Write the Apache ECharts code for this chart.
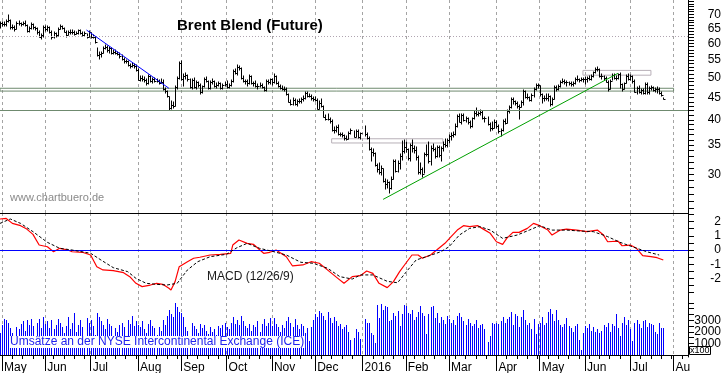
<!DOCTYPE html>
<html><head><meta charset="utf-8">
<script src="https://cdn.jsdelivr.net/npm/echarts@6/dist/echarts.min.js"></script>
<style>html,body{margin:0;padding:0;background:#fff}#c{width:723px;height:373px}</style>
</head><body><div id="c"></div>
<script>
// ---- axis / category definitions ----
const firstDay = [2015, 3, 30];       // 30 Apr 2015, trading days (Mon-Fri)
const dayCount = 335;
const monthLabels = ['May','Jun','Jul','Aug','Sep','Oct','Nov','Dec','2016','Feb','Mar','Apr','May','Jun','Jul','Au'];
const priceLabels = [30,35,40,45,50,55,60,65,70];
const macdLabels = [-2,-1,0,1,2];
const volLabelsOuter = [1000,3000];
const volLabelsMiddle = [2000];

// ---- daily Brent prices (close / high / low), 30 Apr 2015 .. 25 Jul 2016 ----
const closes = [
 66.78,66.46,66.45,67.52,67.77,65.54,65.39,64.91,66.86,66.81,66.59,66.81,66.27,64.02,65.03,66.54,65.37,65.00,63.72,62.06,62.58,65.56,
 64.88,65.49,63.80,62.03,63.31,62.69,64.88,65.70,65.08,63.87,62.61,63.70,63.87,63.64,63.02,63.34,64.45,63.49,62.58,63.26,62.01,63.59,
 62.01,62.07,60.32,56.54,56.85,57.05,58.61,58.73,57.85,58.51,57.05,57.47,57.10,56.65,56.13,55.27,54.62,54.62,53.47,53.30,53.38,53.31,52.21,
 49.52,49.99,49.59,49.52,48.61,50.41,49.18,49.66,49.22,49.19,48.74,49.00,47.16,46.62,45.46,42.69,43.21,43.14,47.56,50.05,54.15,
 49.56,50.50,50.68,49.61,47.63,49.52,47.58,48.89,48.14,46.37,47.75,49.75,49.08,47.47,48.92,49.08,47.75,48.17,48.60,47.34,48.23,48.37,
 47.69,48.13,49.25,51.92,51.33,53.05,52.65,49.86,49.24,49.15,48.71,50.46,48.61,48.71,47.85,47.85,48.07,47.54,46.81,49.05,48.80,49.56,
 48.79,50.54,48.58,47.98,47.42,47.19,47.19,45.81,44.06,43.61,44.56,43.57,44.14,44.18,44.66,44.83,46.12,45.46,45.46,44.86,44.61,
 44.44,42.49,43.84,43.00,40.73,40.26,40.11,39.73,37.93,37.92,38.45,37.19,37.06,36.88,36.35,36.11,37.36,37.89,null,36.62,37.79,36.46,37.28,
 null,37.22,36.42,34.23,33.75,33.55,31.55,30.86,30.31,31.03,28.94,28.55,28.76,27.88,29.25,32.18,30.50,31.80,33.10,33.89,34.74,
 34.24,32.72,35.04,34.46,34.06,32.88,30.32,30.84,30.06,33.36,33.39,32.18,34.50,34.28,33.01,34.69,33.27,34.41,35.29,35.10,35.97,
 36.81,36.93,37.07,38.72,40.84,39.65,41.07,40.05,40.39,39.53,38.74,40.33,41.54,41.20,41.54,41.79,40.47,40.44,null,39.14,38.29,38.32,39.60,
 38.67,37.69,37.87,39.84,39.43,41.94,42.83,44.69,44.18,43.84,43.10,42.91,44.03,46.74,45.17,45.11,44.48,45.74,47.18,48.14,48.13,
 45.83,44.97,45.01,45.01,45.37,43.63,44.66,47.59,47.08,47.83,48.97,49.28,48.93,48.81,48.72,48.35,48.61,49.74,49.59,49.32,49.76,49.69,
 49.72,49.95,49.64,50.55,51.44,52.51,52.51,50.54,50.35,49.83,48.97,47.19,49.17,50.65,49.96,49.88,50.91,48.41,47.16,48.58,50.61,49.68,
 50.35,49.10,46.40,47.43,46.40,46.76,46.25,48.47,46.26,47.37,47.61,46.96,47.12,47.17,46.20,45.69,44.72
];
const highs = [
 67.10,67.10,67.10,67.90,69.63,67.80,66.10,65.90,67.30,67.40,67.00,67.10,67.40,66.30,65.50,66.80,66.50,65.50,65.20,63.90,62.90,65.90,
 65.70,65.80,65.60,64.00,63.60,63.50,65.10,66.00,65.80,65.10,63.90,63.90,64.30,64.40,63.90,63.70,64.50,64.40,63.60,63.60,63.00,64.00,
 63.50,62.60,62.10,58.70,57.40,57.30,59.00,59.60,59.10,58.90,58.60,57.90,57.90,57.30,56.90,56.40,55.50,55.00,54.70,53.80,54.20,53.80,53.40,
 52.30,50.40,50.50,50.10,49.60,50.70,50.60,49.90,50.00,49.60,49.40,49.60,49.40,47.30,46.70,45.20,44.30,44.00,47.90,50.30,54.30,
 54.70,51.00,51.40,50.70,49.60,49.80,50.00,49.10,48.90,48.30,47.90,49.90,50.10,49.10,49.10,49.70,49.20,48.60,48.90,48.70,48.50,49.00,
 49.10,48.40,49.50,52.10,52.40,53.60,53.30,52.70,50.40,49.50,49.50,50.70,50.40,49.00,49.10,48.40,48.60,48.30,47.70,49.30,49.50,49.80,
 49.70,50.90,50.50,48.90,48.20,47.90,47.60,47.40,46.00,44.40,44.90,44.80,44.40,44.80,45.00,45.30,46.40,46.30,45.90,45.60,45.20,
 45.10,44.70,44.10,44.60,43.10,41.00,41.20,40.50,39.90,38.50,38.70,38.90,37.40,37.30,37.00,36.70,37.50,38.10,null,37.70,38.00,37.90,37.40,
 null,38.80,37.40,36.60,34.40,34.30,33.60,31.60,31.80,31.40,30.90,29.20,29.10,28.80,29.50,32.30,32.30,32.10,33.40,35.80,36.00,
 35.50,34.20,35.20,35.90,34.90,34.70,33.10,31.80,31.00,33.50,35.10,35.50,34.80,35.20,34.50,34.90,34.80,34.60,35.60,36.20,36.20,
 37.00,37.30,37.50,39.10,41.00,41.20,41.30,41.20,40.70,40.40,39.70,40.50,42.00,42.50,41.70,42.10,41.90,40.70,null,40.60,39.30,39.50,40.00,
 39.80,38.90,38.20,40.00,40.30,42.20,43.10,44.90,44.90,44.30,44.00,43.40,44.30,46.90,46.50,45.80,45.20,45.90,47.30,48.50,48.50,
 48.00,45.90,45.50,45.90,46.00,45.50,44.90,47.80,47.90,48.10,49.10,49.70,49.50,49.20,49.00,48.80,48.90,49.90,50.50,49.80,49.90,50.00,
 50.10,50.20,50.50,50.70,51.60,52.60,52.86,52.40,50.90,50.60,50.20,49.10,49.30,50.90,51.00,50.40,51.10,51.20,48.40,48.70,50.80,51.00,
 50.80,50.50,49.50,47.60,47.90,47.00,47.20,48.60,48.60,47.50,47.90,47.70,47.30,47.50,47.30,46.30,44.90
];
const lows = [
 65.20,65.90,65.90,65.90,67.20,64.80,64.70,64.10,64.80,66.00,65.80,66.00,65.90,63.80,63.80,64.90,64.90,64.30,62.90,61.90,61.50,62.20,
 64.10,64.20,63.50,61.50,61.80,62.20,62.40,64.70,64.60,63.60,62.20,62.60,63.10,63.10,62.80,62.90,63.20,63.20,62.30,62.50,61.60,62.10,
 61.80,61.70,60.10,56.10,55.10,55.90,56.90,58.10,57.20,56.90,56.80,56.80,56.80,56.30,55.60,55.00,54.10,54.00,53.10,52.70,52.90,52.80,51.90,
 49.40,49.10,49.20,48.90,48.20,48.50,48.90,48.70,48.90,48.80,48.40,48.60,46.80,46.20,45.10,42.23,42.40,42.50,43.00,47.10,49.60,
 49.30,47.90,49.60,49.20,47.30,47.20,47.30,47.20,47.70,46.00,46.10,47.50,48.80,47.20,47.20,48.40,47.50,47.30,47.90,47.10,47.10,47.80,
 47.40,47.40,47.80,49.00,50.90,50.80,52.00,49.70,48.90,48.30,47.90,48.40,48.40,48.00,47.50,47.20,47.60,47.30,46.60,46.50,48.40,48.30,
 48.20,48.60,48.30,47.60,47.10,46.80,46.70,45.60,43.90,43.30,43.20,43.40,43.10,43.80,43.80,44.10,44.70,45.20,45.10,44.50,44.30,
 44.10,42.30,42.30,42.80,40.60,39.90,39.90,39.40,37.80,37.30,37.50,37.00,36.70,36.60,36.05,35.98,36.20,37.10,null,36.50,36.60,36.30,36.20,
 null,36.80,36.20,34.10,32.20,33.00,31.40,30.30,30.00,29.80,28.80,27.70,27.90,27.10,27.80,29.20,30.30,30.40,30.90,32.30,33.50,
 33.70,32.30,32.20,33.80,33.60,32.40,30.00,30.10,29.60,30.20,33.00,31.80,31.50,33.90,32.70,32.90,32.80,32.10,34.00,34.60,34.60,
 35.40,35.90,36.50,36.90,38.60,39.50,39.10,39.80,39.50,39.20,38.40,38.50,40.20,40.90,40.80,41.00,40.20,39.60,null,38.90,37.80,38.00,38.30,
 38.30,37.30,36.80,37.80,39.10,39.30,41.50,42.60,43.60,43.40,42.70,40.10,42.90,43.40,44.90,44.80,44.20,44.10,45.20,46.80,47.40,
 45.40,43.80,44.20,44.40,44.30,43.00,43.40,44.80,46.70,46.90,47.60,48.60,48.30,47.90,48.20,47.80,47.90,48.50,49.20,48.90,49.10,48.90,
 48.50,48.90,49.30,49.50,50.30,51.30,51.80,50.30,49.80,49.50,48.80,46.60,47.20,49.30,49.70,49.30,49.80,47.40,46.60,47.00,48.60,49.50,
 49.40,48.70,46.30,46.00,46.10,45.90,46.00,46.00,46.00,45.90,46.90,46.60,46.40,46.20,46.00,45.40,44.60
];
// ---- daily volume (x100 contracts) ----
const volumes = [
 1900,2600,3100,3000,2800,2300,1900,1200,2400,2200,2700,2900,2100,3000,2600,3100,2500,1000,2800,3100,2300,3300,
 2700,2900,2300,3000,2200,2600,3100,2800,2400,1900,2500,3300,2200,2800,3600,2000,2600,3000,2400,1500,3200,2800,
 3000,2500,1700,3600,3300,2900,2600,2200,3100,2700,2500,1400,2300,2000,2600,2800,2400,1600,3000,2700,3400,2500,2900,
 2600,2400,2900,2200,1900,2700,3000,2500,2300,1700,2400,2100,3000,2600,3400,3900,3500,3300,4500,4100,3700,
 3600,3300,2400,2100,1300,2800,2500,2200,1900,2700,2300,2600,2100,1800,2400,2000,2200,1700,2500,2300,2600,2800,
 2400,2200,2800,3300,2700,3000,2600,3400,2900,2500,2300,2700,2100,2600,2400,2900,2000,2700,3100,2500,2800,3200,
 2500,3200,2700,2400,2000,2600,2300,2900,3300,2800,2400,3100,2600,2200,2700,2500,1900,2300,1200,2400,3000,
 3500,3300,3800,3600,3400,3000,3700,3200,2800,3300,2900,2500,2700,2200,2400,2600,2000,1300,null,1500,2200,2000,1400,
 null,3100,2800,2800,1900,1700,1000,4300,3200,4400,3900,4200,4100,2900,3000,3600,3400,3800,2500,3500,4300,
 4200,3600,3500,3900,3000,3300,3700,4200,3600,3400,1800,3500,4100,4200,3200,3600,2800,3300,3000,2700,3400,
 3100,2800,3000,2600,3400,3600,3300,2900,2600,3100,2800,2500,2700,3000,2300,2600,2700,2200,null,1100,1600,2800,2700,
 2800,2700,2900,3300,2800,3100,3300,3700,2600,3500,3400,2400,3300,3900,3000,2600,2800,2200,3100,1800,2700,
 2800,3300,2600,2800,3700,4000,3500,2900,3900,3000,2600,2400,2700,3200,2500,2300,2000,2500,2700,1300,400,1900,
 2500,2300,2700,2100,2400,2000,2200,1900,2100,2600,2400,2800,2000,2700,2500,3500,2300,1600,2800,3300,2600,3000,
 2200,1200,2800,3000,2700,2300,2900,3000,2400,2800,2700,2600,2000,1800,2800,2300,2300
];
// ---- MACD (12/26/9): [trading-day index, value] ----
const macdLine = [[0,2.18],[3,2.22],[6,1.87],[10,1.71],[13,1.47],[16,1.10],[19,0.35],[23,0.23],[26,-0.12],[29,0.12],[33,0.00],[35,-0.12],[40,-0.16],[44,-0.35],[47,-1.17],[50,-1.40],[55,-1.45],[60,-1.59],[63,-1.87],[66,-2.34],[69,-2.57],[73,-2.46],[76,-2.34],[79,-2.41],[82,-2.69],[83,-2.81],[85,-2.22],[87,-1.17],[91,-0.82],[94,-0.58],[97,-0.51],[102,-0.35],[107,-0.30],[112,-0.23],[113,0.35],[116,0.70],[120,0.47],[123,0.40],[128,-0.23],[131,-0.16],[134,0.00],[139,-0.47],[142,-1.12],[147,-1.05],[151,-0.82],[155,-0.93],[160,-1.52],[164,-1.99],[167,-2.34],[171,-1.87],[175,-1.80],[178,-1.47],[181,-1.64],[184,-2.34],[188,-2.64],[191,-2.22],[194,-1.52],[197,-0.93],[200,-0.35],[203,-0.35],[205,-0.58],[209,-0.35],[212,0.00],[216,0.47],[219,0.94],[222,1.40],[225,1.71],[228,1.64],[232,1.71],[234,1.52],[238,1.17],[241,0.58],[244,0.40],[246,0.82],[249,1.24],[252,1.24],[256,1.52],[259,1.87],[262,1.71],[266,1.40],[268,1.05],[272,1.40],[275,1.47],[280,1.40],[285,1.29],[290,1.40],[293,1.05],[295,0.58],[300,0.63],[302,0.30],[306,0.35],[309,0.12],[312,-0.40],[316,-0.47],[319,-0.54],[322,-0.70]];
const signalLine = [[0,1.87],[5,2.18],[10,1.87],[16,1.29],[23,0.54],[29,0.12],[35,0.00],[44,-0.23],[49,-0.70],[55,-1.24],[62,-1.52],[66,-1.99],[71,-2.34],[76,-2.41],[81,-2.46],[86,-2.34],[91,-1.40],[96,-0.82],[102,-0.47],[110,-0.30],[115,0.16],[120,0.47],[126,0.12],[133,-0.12],[139,-0.35],[146,-0.86],[152,-0.93],[159,-1.28],[165,-1.87],[171,-2.04],[175,-1.75],[181,-1.75],[188,-2.20],[193,-2.30],[198,-1.40],[202,-0.70],[207,-0.47],[214,-0.12],[218,0.23],[223,1.05],[228,1.52],[233,1.64],[238,1.40],[244,0.82],[251,1.05],[257,1.40],[262,1.71],[268,1.40],[275,1.40],[282,1.33],[288,1.29],[295,0.94],[301,0.54],[307,0.23],[314,-0.12],[320,-0.35]];
// ---- drawn annotations (price levels / trend lines) ----
const dottedLevel = 62.4;
const supportLevel = 42.2;
const resistBand = [47.3, 46.6, 0, 327];     // top, bottom, from day, to day
const boxJun = [52.0, 50.7, 283, 316];
const boxDec = [36.2, 35.4, 161, 215];
const greenTrend = [[186, 26.26], [300, 51.2]];
const blueTrend = [[42, 64.4], [82, 47.3]];

// ---- build categories ----
const days = [];
(function () {
  let t = Date.UTC(firstDay[0], firstDay[1], firstDay[2]);
  while (days.length < dayCount) {
    const d = new Date(t); const w = d.getUTCDay();
    if (w > 0 && w < 6) days.push(d.toISOString().slice(0, 10));
    t += 86400000;
  }
})();
const monthLabelAt = {};
let mk = 0;
for (let i = 1; i < days.length; i++) {
  if (days[i].slice(5, 7) !== days[i - 1].slice(5, 7)) { monthLabelAt[i] = monthLabels[mk++]; }
}
const isMonth = (i) => monthLabelAt[i] !== undefined;
const priceTicks = []; for (let v = 25; v <= 75; v++) priceTicks.push(v);
const macdTicks = []; for (let v = -3; v <= 2.5; v += 0.5) macdTicks.push(v);
const volTicks = []; for (let v = 500; v <= 4500; v += 500) volTicks.push(v);

const ohlc = [];
closes.forEach((c, i) => { if (c != null) ohlc.push([i, lows[i], highs[i], c]); });
const volData = [];
volumes.forEach((v, i) => { if (v != null) volData.push([i, v]); });

const FONT = 'Arial, "Liberation Sans", sans-serif';
const monthSplit = { show: true, interval: isMonth, lineStyle: { color: '#a4a4a4', type: [3, 3], width: 1 } };
const plainX = (g) => ({
  gridIndex: g, type: 'category', data: days, boundaryGap: false,
  axisLine: { show: true, lineStyle: { color: '#000', width: 1 } },
  axisTick: { show: false }, axisLabel: { show: false }, splitLine: monthSplit
});
const rightY = (g, extra) => Object.assign({
  gridIndex: g, position: 'right',
  axisLine: { show: true, lineStyle: { color: '#000', width: 1 } },
  splitLine: { show: false }
}, extra);
const lbl = { align: 'right', margin: 33, fontSize: 12, lineHeight: 10, color: '#000', fontFamily: FONT, hideOverlap: false, showMinLabel: true, showMaxLabel: true, formatter: (v) => String(v) };

const chart = echarts.init(document.getElementById('c'), null, { renderer: 'canvas' });
chart.setOption({
  animation: false,
  backgroundColor: '#fff',
  textStyle: { fontFamily: FONT },
  title: [
    { text: 'Brent Blend (Future)', left: 177, top: 18, padding: 0, textStyle: { fontSize: 15, fontWeight: 'bold', color: '#000', fontFamily: FONT } },
    { text: 'www.chartbuero.de', left: 10, top: 192, padding: 0, textStyle: { fontSize: 11, fontWeight: 'normal', color: '#8a8a8a', fontFamily: FONT } },
    { text: 'MACD (12/26/9)', left: 207, top: 271, padding: 0, textStyle: { fontSize: 12, fontWeight: 'normal', color: '#1a1a1a', fontFamily: FONT } },
    { text: 'Umsätze an der NYSE Intercontinental Exchange (ICE)', left: 9, top: 336, padding: [0, 1], backgroundColor: '#fff', textStyle: { fontSize: 12, fontWeight: 'normal', color: '#2222ee', fontFamily: FONT } },
    { text: 'x100', left: 689, top: 346, padding: [0, 1], borderColor: '#000', borderWidth: 1, backgroundColor: '#fff', textStyle: { fontSize: 9, lineHeight: 9, fontWeight: 'normal', color: '#000', fontFamily: FONT } }
  ],
  grid: [
    { left: 0, right: 35, top: 0, height: 213, outerBoundsMode: 'none', containLabel: false },
    { left: 0, right: 35, top: 213, height: 84, outerBoundsMode: 'none', containLabel: false },
    { left: 0, right: 35, top: 297, height: 60, outerBoundsMode: 'none', containLabel: false }
  ],
  xAxis: [
    plainX(0), plainX(1),
    {
      gridIndex: 2, type: 'category', data: days, boundaryGap: false, position: 'bottom',
      axisLine: { show: true, lineStyle: { color: '#000', width: 1 } },
      axisTick: { show: true, interval: isMonth, length: 16, lineStyle: { color: '#000' } },
      axisLabel: { show: true, interval: isMonth, formatter: (v, i) => monthLabelAt[i] || '', align: 'left', verticalAlign: 'top', margin: 5, padding: [0, 0, 0, 2], fontSize: 12, color: '#000', fontFamily: FONT },
      splitLine: monthSplit
    },
    {
      gridIndex: 2, type: 'category', data: days, boundaryGap: false, position: 'bottom',
      axisLine: { show: false },
      axisTick: { show: true, interval: (i) => i % 5 === 1, length: 4, lineStyle: { color: '#000' } },
      axisLabel: { show: false }, splitLine: { show: false }
    }
  ],
  yAxis: [
    rightY(0, { type: 'log', logBase: 10, min: 24.43, max: 75.5,
      axisTick: { show: true, length: 6, customValues: priceTicks, lineStyle: { color: '#000' } },
      axisLabel: Object.assign({}, lbl, { customValues: priceLabels, padding: [4, 0, 0, 0] }) }),
    rightY(1, { type: 'value', min: -3.3, max: 2.6,
      axisTick: { show: true, length: 6, customValues: macdTicks, lineStyle: { color: '#000' } },
      axisLabel: Object.assign({}, lbl, { customValues: macdLabels }) }),
    rightY(2, { type: 'value', min: -170, max: 5000,
      axisTick: { show: true, length: 6, customValues: volTicks, lineStyle: { color: '#000' } },
      axisLabel: Object.assign({}, lbl, { customValues: volLabelsOuter }) }),
    rightY(2, { type: 'value', min: -170, max: 5000,
      axisLine: { show: false }, axisTick: { show: false },
      axisLabel: Object.assign({}, lbl, { customValues: volLabelsMiddle }) })
  ],
  series: [
    { // annotations under the bars
      type: 'line', xAxisIndex: 0, yAxisIndex: 0, data: [], z: 1, silent: true,
      markLine: {
        silent: true, symbol: 'none', animation: false, label: { show: false },
        data: [
          { yAxis: dottedLevel, lineStyle: { color: '#b0a4b0', type: [1, 2], width: 1 } },
          { yAxis: supportLevel, lineStyle: { color: '#6f8a6f', type: 'solid', width: 1 } },
          [{ coord: [days[greenTrend[0][0]], greenTrend[0][1]], lineStyle: { color: '#00a000', type: 'solid', width: 1 } },
           { coord: [days[greenTrend[1][0]], greenTrend[1][1]], lineStyle: { color: '#00a000', type: 'solid', width: 1 } }],
          [{ coord: [days[blueTrend[0][0]], blueTrend[0][1]], lineStyle: { color: '#0000ff', type: 'solid', width: 1 } },
           { coord: [days[blueTrend[1][0]], blueTrend[1][1]], lineStyle: { color: '#0000ff', type: 'solid', width: 1 } }]
        ]
      },
      markArea: {
        silent: true, label: { show: false },
        itemStyle: { color: 'rgba(0,0,0,0)', borderColor: '#6f8a6f', borderWidth: 1 },
        data: [
          [{ xAxis: days[resistBand[2]], yAxis: resistBand[0] }, { xAxis: days[resistBand[3]], yAxis: resistBand[1] }],
          [{ xAxis: days[boxJun[2]], yAxis: boxJun[0], itemStyle: { color: 'rgba(0,0,0,0)', borderColor: '#b8b0b8', borderWidth: 1 } }, { xAxis: days[boxJun[3]], yAxis: boxJun[1] }],
          [{ xAxis: days[boxDec[2]], yAxis: boxDec[0], itemStyle: { color: 'rgba(0,0,0,0)', borderColor: '#b8b0b8', borderWidth: 1 } }, { xAxis: days[boxDec[3]], yAxis: boxDec[1] }]
        ]
      }
    },
    { // OHLC bars
      type: 'custom', xAxisIndex: 0, yAxisIndex: 0, z: 3, data: ohlc,
      encode: { x: 0, y: [1, 2, 3] },
      renderItem: function (params, api) {
        const i = api.value(0);
        const pl = api.coord([i, api.value(1)]);
        const ph = api.coord([i, api.value(2)]);
        const pc = api.coord([i, api.value(3)]);
        const x = Math.round(pl[0]) + 0.5;
        const yc = Math.round(pc[1]) + 0.5;
        return { type: 'group', children: [
          { type: 'line', shape: { x1: x, y1: Math.round(pl[1]) + 0.5, x2: x, y2: Math.round(ph[1]) - 0.5 }, style: { stroke: '#000', lineWidth: 1 } },
          { type: 'line', shape: { x1: x, y1: yc, x2: x + 2, y2: yc }, style: { stroke: '#000', lineWidth: 1 } }
        ] };
      }
    },
    { // MACD
      type: 'line', xAxisIndex: 1, yAxisIndex: 1, data: macdLine, showSymbol: false, z: 4,
      lineStyle: { color: '#ff0000', width: 1.2 },
      markLine: { silent: true, symbol: 'none', label: { show: false }, lineStyle: { color: '#0000ff', width: 1.2, type: 'solid' }, data: [{ yAxis: 0 }] }
    },
    { // Signal
      type: 'line', xAxisIndex: 1, yAxisIndex: 1, data: signalLine, showSymbol: false, z: 5,
      lineStyle: { color: '#000', width: 1, type: [3, 2] }
    },
    { // Volume bars, 1px crisp
      type: 'custom', xAxisIndex: 2, yAxisIndex: 2, z: 2, data: volData,
      encode: { x: 0, y: 1 },
      renderItem: function (params, api) {
        const i = api.value(0);
        const top = api.coord([i, api.value(1)]);
        const base = api.coord([i, 0]);
        const x = Math.round(top[0]);
        const y = Math.round(top[1]);
        return { type: 'rect', shape: { x: x, y: y, width: 1, height: Math.round(base[1]) - y }, style: { fill: '#0000ff' } };
      }
    }
  ]
});
</script></body></html>
